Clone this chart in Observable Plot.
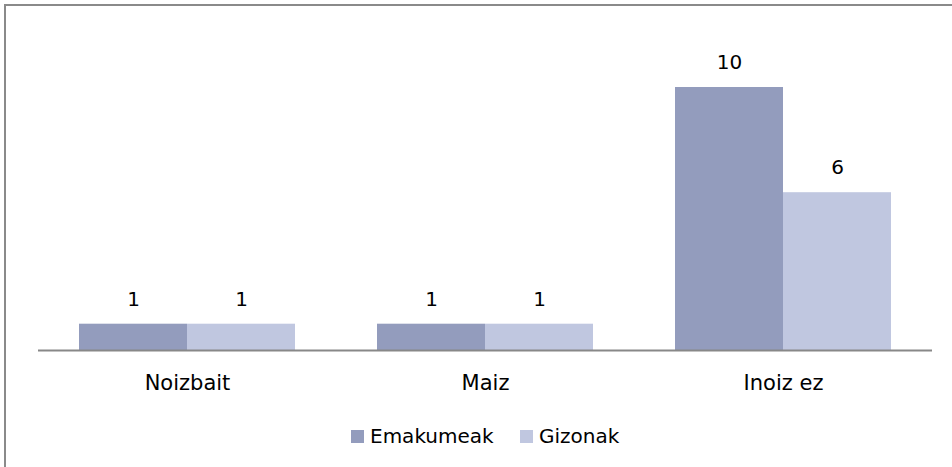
<!DOCTYPE html>
<html>
<head>
<meta charset="utf-8">
<script src="https://cdn.jsdelivr.net/npm/d3@7"></script>
<script src="https://cdn.jsdelivr.net/npm/@observablehq/plot@0.6"></script>
<style>
  html, body { margin: 0; padding: 0; background: #fff; }
  body { width: 952px; height: 467px; position: relative; overflow: hidden; font-family: "DejaVu Sans", sans-serif; }
  #frame { position: absolute; left: 4px; top: 4px; width: 960px; height: 480px; border-top: 2px solid #8a8a8a; border-left: 2px solid #8a8a8a; box-sizing: border-box; }
  #chart { position: absolute; left: 0; top: 0; }
  .legend { position: absolute; top: 425px; font-size: 20px; line-height: 22px; color: #000; display: flex; align-items: center; }
  .sw { display: inline-block; width: 13px; height: 13px; margin-right: 6px; }
</style>
</head>
<body>
<div id="frame"></div>
<div id="chart"></div>
<div class="legend" style="left:351px"><span class="sw" style="background:#939cbd"></span>Emakumeak</div>
<div class="legend" style="left:520px"><span class="sw" style="background:#c0c7e0"></span>Gizonak</div>
<script>
const categories = ["Noizbait", "Maiz", "Inoiz ez"];
const seriesNames = ["Emakumeak", "Gizonak"];
const emakumeak = [1, 1, 10];
const gizonak = [1, 1, 6];
const colors = ["#939cbd", "#c0c7e0"];

const data = [];
categories.forEach((c, i) => {
  data.push({category: c, series: seriesNames[0], value: emakumeak[i]});
  data.push({category: c, series: seriesNames[1], value: gizonak[i]});
});

const chart = Plot.plot({
  width: 952,
  height: 400,
  marginLeft: 37,
  marginRight: 19,
  marginTop: 87,
  marginBottom: 50,
  style: {fontFamily: "'DejaVu Sans', sans-serif", fontSize: "20px", color: "#000", background: "transparent"},
  fx: {domain: categories, padding: 0, label: null},
  x: {domain: seriesNames, paddingInner: 0, paddingOuter: 0.376, axis: null},
  y: {domain: [0, 10], axis: null},
  color: {domain: seriesNames, range: colors},
  marks: [
    Plot.barY(data, {fx: "category", x: "series", y: "value", fill: "series", inset: 0}),
    Plot.text(data, {fx: "category", x: "series", y: "value", text: d => String(d.value), dy: -25, lineAnchor: "middle", fill: "#000", fontSize: 20}),
    Plot.ruleY([0], {stroke: "#888", strokeWidth: 2}),
    Plot.axisFx({anchor: "bottom", tickSize: 0, tickPadding: 25, fontSize: 21, label: null, fill: "#000"})
  ]
});
document.getElementById("chart").appendChild(chart);
</script>
</body>
</html>
